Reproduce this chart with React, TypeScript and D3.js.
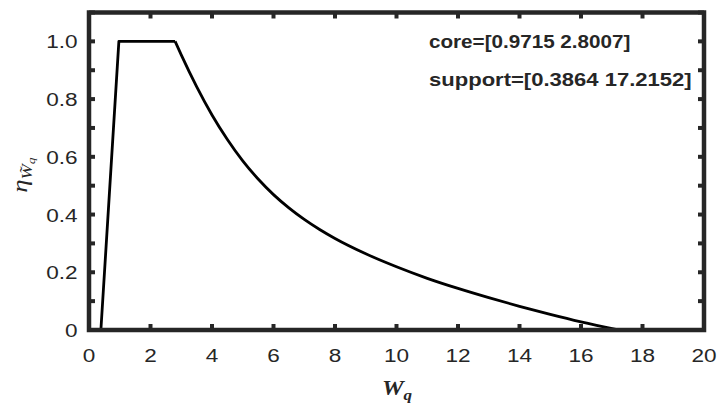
import React from "react";
import * as d3 from "d3";

const W = 718, H = 403;
const xTicks = [0, 2, 4, 6, 8, 10, 12, 14, 16, 18, 20];
const yTicks = [0, 0.1, 0.2, 0.3, 0.4, 0.5, 0.6, 0.7, 0.8, 0.9, 1.0, 1.1];
const yLabelTicks = [0, 0.2, 0.4, 0.6, 0.8, 1.0];

// rising + core segment
const riseX = [0.3864, 0.9715, 2.8007];
const riseY = [0, 1, 1];
// decreasing tail
const tailX = [2.8007, 3.0, 3.5, 4.0, 4.5, 5.0, 5.5, 6.0, 6.5, 7.0, 7.5, 8.0, 9.0, 10.0, 11.0, 12.0, 13.0, 14.0, 15.0, 16.0, 17.2152];
const tailY = [1, 0.953, 0.843, 0.745, 0.66, 0.586, 0.523, 0.469, 0.423, 0.383, 0.348, 0.317, 0.264, 0.219, 0.179, 0.144, 0.112, 0.082, 0.054, 0.028, 0];

const annotations = ["core=[0.9715 2.8007]", "support=[0.3864 17.2152]"];

const AX = "#262626";
const left = 89, right = 704, top = 12.5, bottom = 330;
const SX = 1.22;

function SText({ x, y, anchor = "start", size, weight = "normal", children, family = "'Liberation Sans', Arial, sans-serif", sx = SX }: any) {
  return (
    <text transform={`translate(${x},${y}) scale(${sx},1)`} textAnchor={anchor} fontSize={size} fontWeight={weight} fontFamily={family} fill={AX}>
      {children}
    </text>
  );
}

export default function App() {
  const x = d3.scaleLinear().domain([0, 20]).range([left, right]);
  const y = d3.scaleLinear().domain([0, 1.1]).range([bottom, top]);
  const rise = riseX.map((v, i) => [v, riseY[i]] as [number, number]);
  const tail = tailX.map((v, i) => [v, tailY[i]] as [number, number]);
  const lin = d3.line<[number, number]>().x(d => x(d[0])).y(d => y(d[1]));
  const smooth = d3.line<[number, number]>().x(d => x(d[0])).y(d => y(d[1])).curve(d3.curveMonotoneX);
  const tl = 6;
  return (
    <svg width={W} height={H} style={{ position: "absolute", left: 0, top: 0, background: "#fff" }}>
      <rect x={0} y={0} width={W} height={H} fill="#fff" />
      {xTicks.map(t => (
        <g key={"xt" + t}>
          <line x1={x(t)} x2={x(t)} y1={bottom} y2={bottom - tl} stroke={AX} strokeWidth={4} />
          <line x1={x(t)} x2={x(t)} y1={top} y2={top + tl} stroke={AX} strokeWidth={4} />
          <SText x={x(t)} y={361.5} anchor="middle" size={18.5}>{String(t)}</SText>
        </g>
      ))}
      {yTicks.map(t => (
        <g key={"yt" + t}>
          <line x1={left} x2={left + tl} y1={y(t)} y2={y(t)} stroke={AX} strokeWidth={4} />
          <line x1={right} x2={right - tl} y1={y(t)} y2={y(t)} stroke={AX} strokeWidth={4} />
        </g>
      ))}
      {yLabelTicks.map(t => (
        <SText key={"yl" + t} x={77.5} y={y(t) + 7} anchor="end" size={18.5}>{t === 0 ? "0" : t.toFixed(1)}</SText>
      ))}
      <path d={lin(rise) || ""} fill="none" stroke="#000" strokeWidth={2.8} strokeLinejoin="round" />
      <path d={smooth(tail) || ""} fill="none" stroke="#000" strokeWidth={2.8} strokeLinejoin="round" />
      <rect x={left} y={top} width={right - left} height={bottom - top} fill="none" stroke={AX} strokeWidth={4.5} />
      <SText x={429} y={48} size={17.5} weight="bold" sx={1.18}>{annotations[0]}</SText>
      <SText x={429} y={86} size={17.5} weight="bold" sx={1.26}>{annotations[1]}</SText>
      <text transform={`translate(397,395) scale(${SX},1)`} textAnchor="middle" fontFamily="'Liberation Serif', 'Times New Roman', serif" fontStyle="italic" fontWeight="bold" fill={AX}>
        <tspan fontSize={20}>W</tspan>
        <tspan fontSize={14} dy={5}>q</tspan>
      </text>
      <text transform={`translate(27,${(top + bottom) / 2 + 4}) rotate(-90) scale(${SX},1)`} textAnchor="middle" fontFamily="'Liberation Serif', 'Times New Roman', serif" fontStyle="italic" fill={AX}>
        <tspan fontSize={22}>η</tspan>
        <tspan fontSize={15} dy={5}>W̃</tspan>
        <tspan fontSize={11} dy={3}>q</tspan>
      </text>
    </svg>
  );
}
